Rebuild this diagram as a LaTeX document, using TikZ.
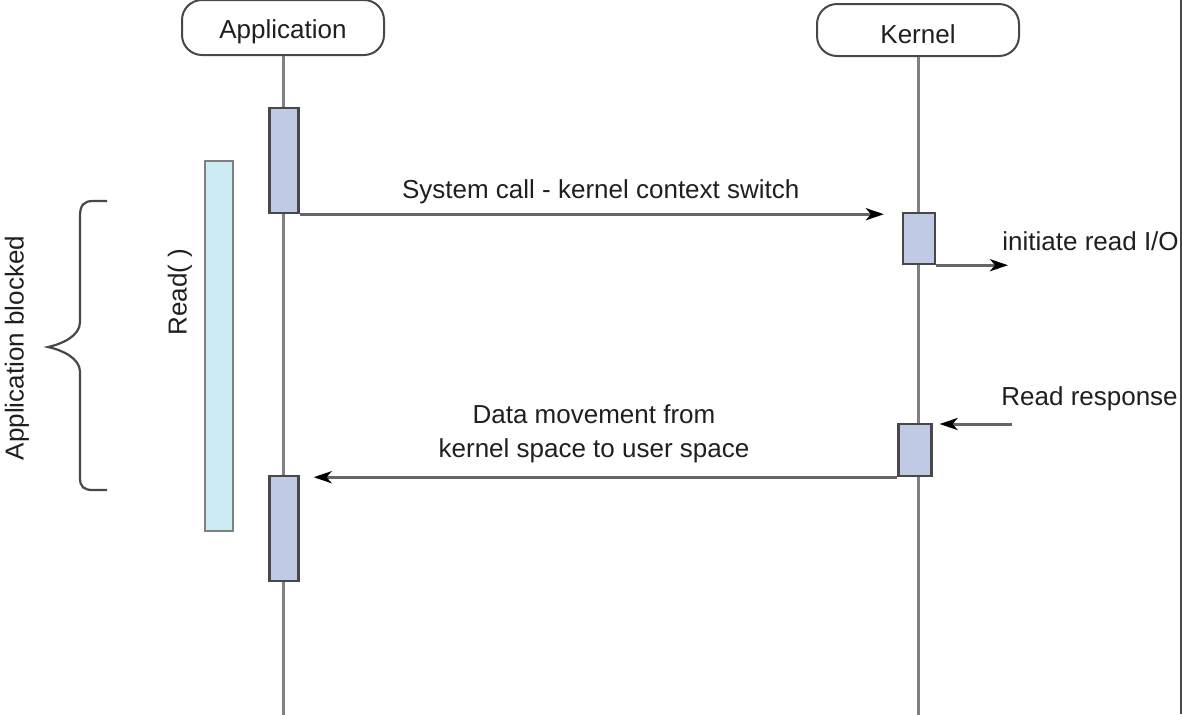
\documentclass[tikz,border=0pt]{standalone}
\usepackage{fontspec}
\setmainfont{Liberation Sans}
\usetikzlibrary{positioning, arrows.meta}
\definecolor{life_grey}{RGB}{128,128,128}
\definecolor{edge_grey}{RGB}{72,72,72}
\definecolor{act_blue}{RGB}{192,202,228}
\definecolor{read_cyan}{RGB}{204,235,242}

\begin{document}
\begin{tikzpicture}[>=Stealth, x=0.5pt, y=-0.5pt,
    font=\fontsize{13}{17}\selectfont, text=black!88,
    header/.style={draw=edge_grey, line width=1pt, rounded corners=10pt, fill=white,
      minimum width=101pt, inner sep=0pt, text height=19pt, text depth=8.5pt},
    lifeline/.style={draw=life_grey, line width=1.5pt},
    activation/.style={draw=edge_grey, line width=1.1pt, fill=act_blue, inner sep=0pt,
      minimum width=14.5pt, anchor=north},
    message/.style={draw=life_grey!80!black, line width=1.5pt,
      -{Stealth[length=9pt, width=6pt, inset=2.5pt, color=black]}},
    brace_line/.style={draw=edge_grey, line width=1.1pt}]

    \useasboundingbox (0,0) rectangle (1182,714);

    % --- Lifeline heads ---
    \node [header] (Application) at (283,0) [anchor=north, yshift=0.5pt] {Application};
    \node [header, text height=19.5pt, text depth=6.5pt] (Kernel) at (918,3) [anchor=north] {Kernel};
    \coordinate (bottom) at (0,716);

    % --- Lifelines ---
    \draw[lifeline] (Application.south) -- (Application.south |- bottom);
    \draw[lifeline] (Kernel.south) -- (Kernel.south |- bottom);

    % --- Activation boxes ---
    \node [activation, minimum height=52.5pt] (app_call) at (284,107) {};
    \node [activation, minimum height=52.5pt] (app_copy) at (284,475) {};
    \node [activation, minimum width=16pt, minimum height=25.5pt] (kern_start) at (919,212) {};
    \node [activation, minimum width=16.5pt, minimum height=26pt] (kern_done) at (915,423) {};

    % --- Read() bar ---
    \node [draw=life_grey, line width=1.2pt, fill=read_cyan, inner sep=0pt, anchor=north,
      minimum width=14pt, minimum height=185pt] (read_bar) at (219,160) {};
    \node [rotate=90] (read_label) at (180,292) {Read( )};

    % --- Blocked brace ---
    \draw[brace_line] (107,201) -- (93,201) .. controls (84,201) and (80,205) .. (80,216)
      -- (80,322) .. controls (80,336) and (62,344) .. (48,347)
      .. controls (62,350) and (80,358) .. (80,372) -- (80,478)
      .. controls (80,487) and (84,490) .. (93,490) -- (107,490);
    \node [rotate=90] (blocked_label) at (17,348) {Application blocked};

    % --- Messages ---
    \draw[message, shorten >=9pt] (app_call.south east) -- (app_call.south east -| kern_start.west)
      node [midway, above=1pt] (call_label) {System call - kernel context switch};

    \coordinate (io_end) at (1008,264);
    \draw[message] (kern_start.south east) -- (kern_start.south east -| io_end);
    \node [anchor=base west, inner sep=0pt] (io_label) at (1002,250) {initiate read I/O};

    \coordinate (resp_start) at (1012,424);
    \draw[message, shorten >=3.5pt] (resp_start) -- (resp_start -| kern_done.east);
    \node [anchor=base west, inner sep=0pt] (resp_label) at (1001,405) {Read response};

    \draw[message, shorten >=7pt] (kern_done.south west) -- (kern_done.south west -| app_copy.east);
    \node [align=center, inner sep=0pt] (copy_label) at (594,434) {Data movement from\\kernel space to user space};

    % --- Right frame edge ---
    \coordinate (frame_top) at (1181,0);
    \coordinate (frame_bottom) at (1181,714);
    \draw[edge_grey, line width=1pt] (frame_top) -- (frame_bottom);

\end{tikzpicture}
\end{document}
